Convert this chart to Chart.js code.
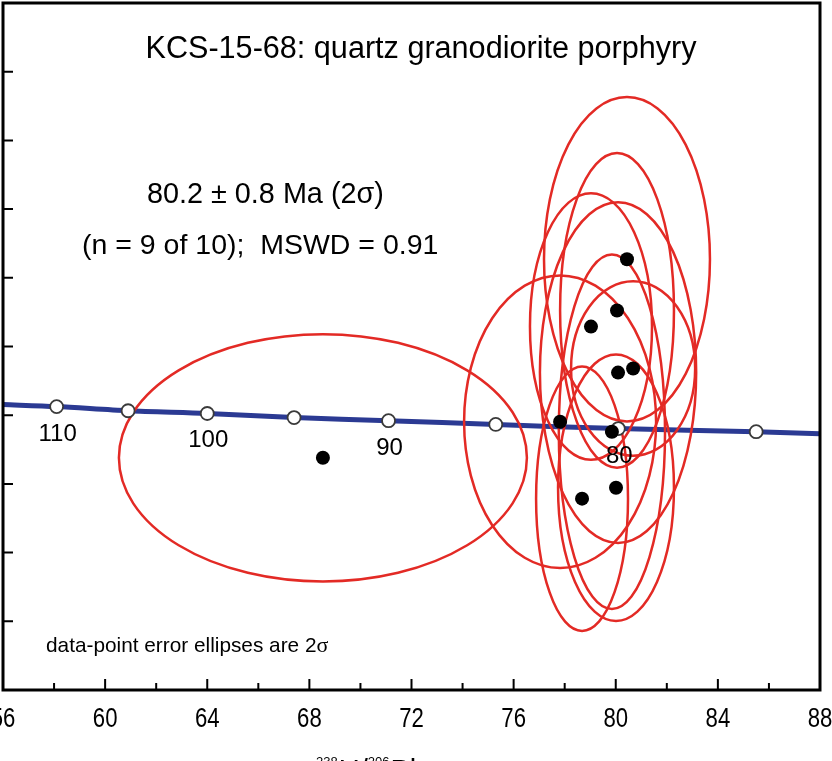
<!DOCTYPE html>
<html>
<head>
<meta charset="utf-8">
<script src="https://cdn.jsdelivr.net/npm/chart.js@4.4.1/dist/chart.umd.min.js"></script>
<style>
  html, body { margin: 0; padding: 0; background: #fff; }
  canvas { display: block; }
</style>
</head>
<body>
<canvas id="chart" width="832" height="761"></canvas>
<script>
// Tera-Wasserburg: 238U/206Pb vs 207Pb/206Pb
const spotX = [68.53, 77.82, 79.85, 78.68, 80.01, 79.03, 80.05, 80.44, 80.09, 80.68];
const spotY = [0.04676, 0.04781, 0.04752, 0.04557, 0.04589, 0.05058, 0.05105, 0.05254, 0.04924, 0.04936];
// 2 sigma half widths of the error ellipses
const errX = [7.99, 3.76, 2.08, 1.80, 2.27, 2.39, 2.23, 3.25, 3.06, 2.43];
const errY = [0.00360, 0.00426, 0.00516, 0.00385, 0.00388, 0.00388, 0.00458, 0.00472, 0.00496, 0.00254];

// concordia curve and its age marks (Ma)
const curveX = [56, 58.1, 60.9, 64.0, 67.4, 71.1, 75.3, 80.1, 85.5, 88];
const curveY = [0.04831, 0.04825, 0.04813, 0.04805, 0.04793, 0.04784, 0.04773, 0.04761, 0.04752, 0.04746];
const markAges = [110, 105, 100, 95, 90, 85, 80, 75];
const markX = [58.1, 60.9, 64.0, 67.4, 71.1, 75.3, 80.1, 85.5];
const markY = [0.04825, 0.04813, 0.04805, 0.04793, 0.04784, 0.04773, 0.04761, 0.04752];
const labelledAges = [110, 100, 90, 80];

const xMajorTicks = [56, 60, 64, 68, 72, 76, 80, 84, 88];
const xMinorTicks = [58, 62, 66, 70, 74, 78, 82, 86];
const yTicks = [0.040, 0.042, 0.044, 0.046, 0.048, 0.050, 0.052, 0.054, 0.056, 0.058, 0.060];

const SANS = "'Liberation Sans', Arial, sans-serif";

const ellipsePlugin = {
    id: 'errorEllipses',
    afterDatasetDraw(chart, args) {
        if (args.index !== 0) return; // right after the concordia line
        const { ctx, chartArea, scales: { x, y } } = chart;
        ctx.save();
        ctx.beginPath();
        ctx.rect(chartArea.left, chartArea.top, chartArea.width, chartArea.height);
        ctx.clip();
        ctx.strokeStyle = '#e32a25';
        ctx.lineWidth = 2.5;
        spotX.forEach((v, i) => {
            const cx = x.getPixelForValue(v);
            const cy = y.getPixelForValue(spotY[i]);
            const rx = Math.abs(x.getPixelForValue(v + errX[i]) - cx);
            const ry = Math.abs(y.getPixelForValue(spotY[i] + errY[i]) - cy);
            ctx.beginPath();
            ctx.ellipse(cx, cy, rx, ry, 0, 0, Math.PI * 2);
            ctx.stroke();
        });
        ctx.restore();
    }
};

const frameAndText = {
    id: 'frameAndText',
    afterDraw(chart) {
        const { ctx, chartArea: a, scales: { x, y } } = chart;
        ctx.save();
        ctx.strokeStyle = '#000';
        ctx.lineWidth = 3;
        ctx.strokeRect(a.left, a.top, a.right - a.left, a.bottom - a.top);

        // inward ticks
        ctx.lineWidth = 2;
        ctx.beginPath();
        xMajorTicks.forEach(v => {
            const px = x.getPixelForValue(v);
            ctx.moveTo(px, a.bottom); ctx.lineTo(px, a.bottom - 11);
        });
        xMinorTicks.forEach(v => {
            const px = x.getPixelForValue(v);
            ctx.moveTo(px, a.bottom); ctx.lineTo(px, a.bottom - 7);
        });
        yTicks.forEach(v => {
            const py = y.getPixelForValue(v);
            ctx.moveTo(a.left, py); ctx.lineTo(a.left + 10, py);
        });
        ctx.stroke();

        ctx.fillStyle = '#000';
        ctx.textAlign = 'center';
        ctx.textBaseline = 'alphabetic';
        // condensed tick labels
        ctx.font = '27px ' + SANS;
        xMajorTicks.forEach(v => {
            ctx.save();
            ctx.translate(x.getPixelForValue(v), 727);
            ctx.scale(0.82, 1);
            ctx.fillText(String(v), 0, 0);
            ctx.restore();
        });

        // age labels on concordia
        ctx.font = '24px ' + SANS;
        labelledAges.forEach(age => {
            const i = markAges.indexOf(age);
            ctx.fillText(String(age), x.getPixelForValue(markX[i]) + 1, y.getPixelForValue(markY[i]) + 34);
        });

        ctx.font = '30.6px ' + SANS;
        ctx.fillText('KCS-15-68: quartz granodiorite porphyry', 421, 58);

        ctx.textAlign = 'left';
        ctx.font = '28.8px ' + SANS;
        ctx.fillText('80.2 \u00b1 0.8 Ma (2\u03c3)', 147, 203);
        ctx.font = '28.5px ' + SANS;
        ctx.fillText('(n = 9 of 10);  MSWD = 0.91', 82, 254);

        ctx.font = '20.8px ' + SANS;
        const note = 'data-point error ellipses are 2';
        ctx.fillText(note, 46, 652);
        const nw = ctx.measureText(note).width;
        ctx.font = "22px 'Liberation Serif', serif";
        ctx.fillText('\u03c3', 46 + nw, 652);

        // axis title, only its top shows
        let tx = 316;
        const parts = [['238', 13, 766], ['U/', 29, 780], ['206', 13, 766], ['Pb', 29, 780]];
        parts.forEach(([t, size, base]) => {
            ctx.font = size + 'px ' + SANS;
            ctx.fillText(t, tx, base);
            tx += ctx.measureText(t).width + (size < 20 ? 1 : 0);
        });
        ctx.restore();
    }
};

const ctx = document.getElementById('chart').getContext('2d');
const chart = new Chart(ctx, {
    type: 'scatter',
    data: {
        datasets: [
            {
                type: 'line',
                data: curveX.map((v, i) => ({ x: v, y: curveY[i] })),
                borderColor: '#2b3a93',
                borderWidth: 5,
                pointRadius: 0,
                tension: 0.3,
                order: 3
            },
            {
                data: markX.map((v, i) => ({ x: v, y: markY[i] })),
                pointRadius: 6.5,
                backgroundColor: '#fff',
                borderColor: '#3a3a3a',
                borderWidth: 1.8,
                order: 2
            },
            {
                data: spotX.map((v, i) => ({ x: v, y: spotY[i] })),
                pointRadius: 7,
                backgroundColor: '#000',
                borderColor: '#000',
                borderWidth: 0,
                order: 1
            }
        ]
    },
    options: {
        responsive: false,
        animation: false,
        layout: { autoPadding: false, padding: { left: 3, top: 3, right: 12, bottom: 71 } },
        scales: {
            x: { type: 'linear', min: 56, max: 88, display: false },
            y: { type: 'linear', min: 0.040, max: 0.060, display: false }
        },
        plugins: { legend: { display: false }, tooltip: { enabled: false } }
    },
    plugins: [ellipsePlugin, frameAndText]
});
</script>
</body>
</html>
